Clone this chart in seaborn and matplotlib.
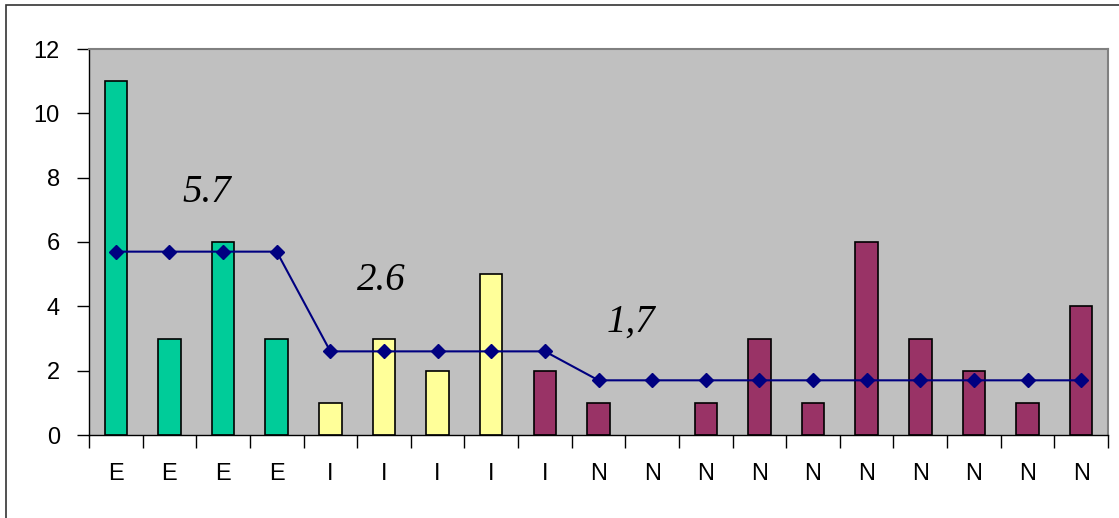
import numpy as np
import pandas as pd
import matplotlib
matplotlib.use("Agg")
import matplotlib.pyplot as plt
import matplotlib.patches as mpatches
import seaborn as sns

# dados
rotulos = ["E", "E", "E", "E", "I", "I", "I", "I", "I",
           "N", "N", "N", "N", "N", "N", "N", "N", "N", "N"]
grupos = ["E"] * 4 + ["I"] * 4 + ["N"] * 11
valores = [11, 3, 6, 3, 1, 3, 2, 5, 2, 1, 0, 1, 3, 1, 6, 3, 2, 1, 4]
medias = [5.7] * 4 + [2.6] * 5 + [1.7] * 10
textos_media = ["5.7", "2.6", "1,7"]
cores = {"E": "#00CC99", "I": "#FFFF99", "N": "#993366"}

df = pd.DataFrame({"pos": range(len(valores)), "valor": valores, "grupo": grupos})

sns.set_style("white")
plt.rcParams["font.family"] = ["Liberation Sans", "DejaVu Sans"]

fig = plt.figure(figsize=(11.19, 5.18), dpi=100)
ax = fig.add_axes([89 / 1119, 83 / 518, (1108 - 89) / 1119, (435 - 49) / 518])
ax.set_facecolor("#C0C0C0")

sns.barplot(data=df, x="pos", y="valor", hue="grupo", palette=cores, dodge=False,
            width=0.42, edgecolor="black", linewidth=1.2, legend=False, ax=ax,
            native_scale=True, saturation=1)

# barra de valor zero nao aparece
for barra in ax.patches:
    if barra.get_height() == 0:
        barra.set_visible(False)

ax.plot(df["pos"], medias, color="#000080", marker="D", markersize=7, linewidth=1.5, zorder=5)

# rotulos das medias
fonte_media = dict(family=["Liberation Serif", "DejaVu Serif"], style="italic", fontsize=28,
                   ha="center", va="center", color="black")
ax.text(1.7, 7.55, textos_media[0], **fonte_media)
ax.text(4.95, 4.8, textos_media[1], **fonte_media)
ax.text(9.6, 3.5, textos_media[2], **fonte_media)

n = len(valores)
ax.set_xlim(-0.5, n - 0.5)
ax.set_ylim(0, 12)
ax.set_yticks(np.arange(0, 13, 2))
ax.set_xticks(np.arange(-0.5, n, 1.0))
ax.set_xticklabels([])
ax.set_xticks(np.arange(n), minor=True)
ax.set_xticklabels(rotulos, minor=True)
ax.tick_params(axis="x", which="major", direction="out", length=9, width=1, color="black", bottom=True)
ax.tick_params(axis="x", which="minor", length=0, pad=20, labelsize=17, labelcolor="black")
ax.tick_params(axis="y", direction="out", length=9, width=1, color="black", left=True,
               labelsize=17, pad=12, labelcolor="black")
ax.set_xlabel("")
ax.set_ylabel("")

for lado in ["top", "right"]:
    ax.spines[lado].set_color("#808080")
    ax.spines[lado].set_linewidth(1.5)
for lado in ["left", "bottom"]:
    ax.spines[lado].set_color("black")
    ax.spines[lado].set_linewidth(1)

# moldura externa
fig.patches.append(mpatches.Rectangle((6 / 1119, -0.1), 2, 1.1 - 5 / 518, transform=fig.transFigure,
                                      fill=False, edgecolor="#333333", linewidth=1.2))

fig.savefig("out.png", dpi=100)
